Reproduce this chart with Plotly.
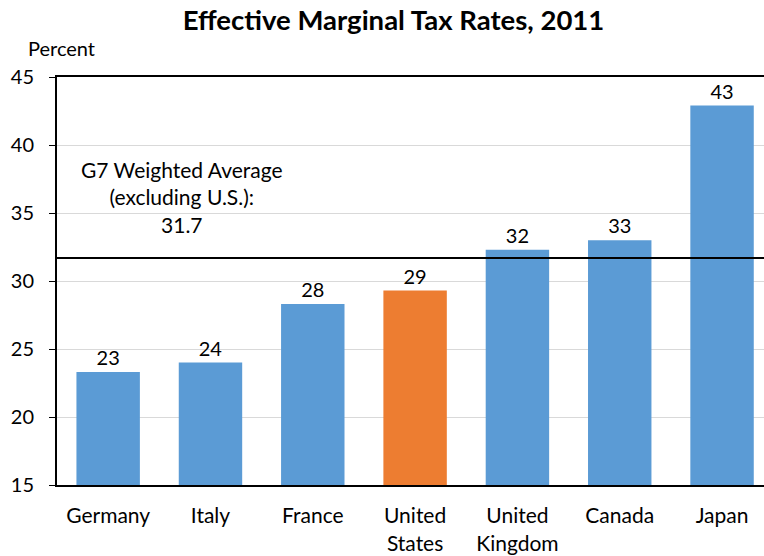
import plotly.graph_objects as go

categories = ["Germany", "Italy", "France", "United<br>States", "United<br>Kingdom", "Canada", "Japan"]
values = [23.3, 24.0, 28.3, 29.3, 32.3, 33.0, 42.9]
labels = ["23", "24", "28", "29", "32", "33", "43"]
colors = ["#5B9BD5", "#5B9BD5", "#5B9BD5", "#ED7D31", "#5B9BD5", "#5B9BD5", "#5B9BD5"]
g7_average = 31.7
y_ticks = [15, 20, 25, 30, 35, 40, 45]

FONT = "Lato"

fig = go.Figure()
fig.add_trace(go.Bar(
    x=list(range(len(categories))), y=values, marker=dict(color=colors, line=dict(width=0)),
    text=labels, textposition="outside", cliponaxis=False,
    textfont=dict(family=FONT, size=20, color="black"),
    showlegend=False,
))
fig.add_hline(y=g7_average, line=dict(color="black", width=2))
fig.add_annotation(
    x=0.72, y=39.3, xref="x", yref="y",
    text="G7 Weighted Average<br>(excluding U.S.):<br>31.7",
    showarrow=False, align="center", yanchor="top",
    font=dict(family=FONT, size=21, color="black"),
)
fig.add_annotation(
    x=-0.044, y=1.071, xref="paper", yref="paper", text="Percent", showarrow=False,
    xanchor="left", yanchor="middle", font=dict(family=FONT, size=20, color="black"),
)
fig.update_layout(
    width=764, height=556,
    margin=dict(l=57, r=0, t=77, b=71),
    plot_bgcolor="white", paper_bgcolor="white",
    bargap=0.38,
    title=dict(text="<b>Effective Marginal Tax Rates, 2011</b>", x=0.515, xanchor="center",
               y=0.963, yanchor="middle", font=dict(family=FONT, size=27.5, color="black")),
    xaxis=dict(
        tickmode="array", tickvals=list(range(len(categories))), ticktext=categories,
        range=[-0.5, 6.41], showline=True, linecolor="black", linewidth=2, mirror=True,
        ticks="", showgrid=False, tickfont=dict(family=FONT, size=21, color="black"),
        ticklabelstandoff=11, automargin=False,
    ),
    yaxis=dict(
        range=[15, 45], tickvals=y_ticks, showline=True, linecolor="black", linewidth=2,
        ticks="outside", ticklen=6, tickcolor="black", tickwidth=1,
        showgrid=True, gridcolor="#D9D9D9", gridwidth=1, zeroline=False,
        tickfont=dict(family=FONT, size=20, color="black"), ticklabelstandoff=11,
        automargin=False,
    ),
)
fig.write_html(
    "out.html",
    config={"displayModeBar": False},
    post_script="document.body.style.margin='0px';document.body.style.overflow='hidden';",
)
